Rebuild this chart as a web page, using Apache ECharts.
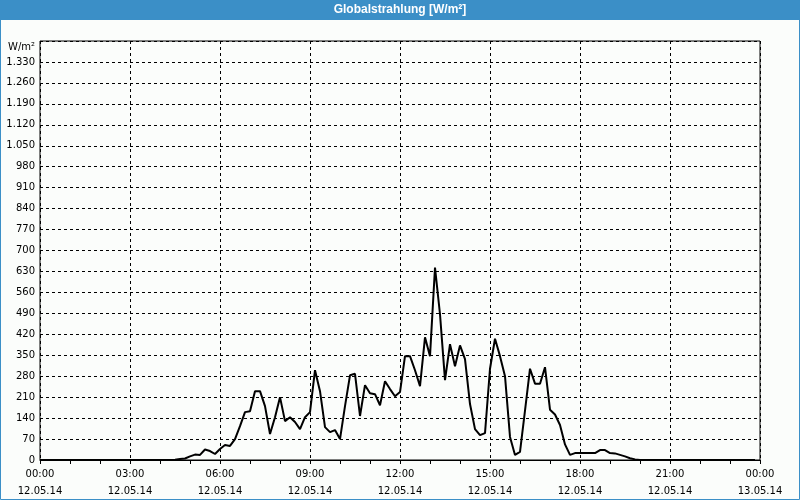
<!DOCTYPE html>
<html>
<head>
<meta charset="utf-8">
<script src="https://cdn.jsdelivr.net/npm/echarts@6/dist/echarts.min.js"></script>
<style>
html,body{margin:0;padding:0;background:#fbfdfb;}
#c{width:800px;height:500px;}
</style>
</head>
<body>
<div id="c"></div>
<script>
// ---- data ----
const titleText = 'Globalstrahlung [W/m²]';
const unitLabel = 'W/m²';
const stepMinutes = 10; // one reading every 10 minutes, starting 12.05.14 00:00
const radiation = [
  0,0,0,0,0,0,0,0,0,0, 0,0,0,0,0,0,0,0,0,0, 0,0,0,0,0,0,0,1,
  3,5,12,18,17,35,30,20,37,50,47,70,113,160,163,230,230,180,87,143,
  210,130,143,127,103,143,160,300,230,110,93,100,70,180,283,288,147,250,223,220,
  183,263,237,213,227,347,347,300,247,410,347,643,487,267,387,313,383,337,187,103,
  83,90,305,405,347,280,77,17,27,165,305,255,255,310,168,152,117,52,17,23,
  23,23,23,23,33,33,23,22,17,12,6,2,
  0,0,0,0,0,0,0,0,0,0,0,0,0,0,0,0,0,0,0,0,0,0,0,0
];
const xTickTimes = ['00:00','03:00','06:00','09:00','12:00','15:00','18:00','21:00','00:00'];
const xTickDates = ['12.05.14','12.05.14','12.05.14','12.05.14','12.05.14','12.05.14','12.05.14','12.05.14','13.05.14'];

const points = radiation.map((v, i) => [i * stepMinutes, v]);
const font = 'DejaVu Sans';

const chart = echarts.init(document.getElementById('c'), null, {renderer: 'canvas'});
chart.setOption({
  animation: false,
  backgroundColor: '#fbfdfb',
  graphic: [
    {type: 'rect', shape: {x: 0, y: 0, width: 800, height: 20}, style: {fill: '#3b8fc7'}, z: 10},
    {type: 'rect', shape: {x: 0.5, y: 0.5, width: 799, height: 499}, style: {fill: null, stroke: '#3b8fc7', lineWidth: 1}, z: 10},
    {type: 'text', x: 400, y: 10, style: {text: titleText, fill: '#ffffff', font: 'bold 12px "Liberation Sans"', align: 'center', verticalAlign: 'middle'}, z: 11},
    {type: 'text', x: 35, y: 47, style: {text: unitLabel, fill: '#000', font: '10px "DejaVu Sans"', align: 'right', verticalAlign: 'middle'}, z: 11}
  ],
  grid: {left: 40, right: 40, top: 41, bottom: 39, show: true, borderColor: '#000', borderWidth: 1, backgroundColor: '#fbfdfb'},
  xAxis: {
    type: 'value', min: 0, max: 1440, interval: 180,
    axisLine: {show: true, lineStyle: {color: '#000', width: 1}},
    axisTick: {show: true, length: 4, lineStyle: {color: '#000'}},
    minorTick: {show: true, splitNumber: 3, length: 4, lineStyle: {color: '#000'}},
    splitLine: {show: true, lineStyle: {color: '#000', type: [3, 3], width: 1}},
    axisLabel: {
      color: '#000', fontFamily: font, fontSize: 10, lineHeight: 17, margin: 6,
      formatter: v => { const k = Math.round(v / 180); return xTickTimes[k] + '\n' + xTickDates[k]; }
    }
  },
  yAxis: {
    type: 'value', min: 0, max: 1400, interval: 70,
    axisLine: {show: false},
    axisTick: {show: false},
    splitLine: {show: true, lineStyle: {color: '#000', type: [3, 3], width: 1}},
    axisLabel: {
      color: '#000', fontFamily: font, fontSize: 10, margin: 5,
      formatter: v => v >= 1400 ? '' : (v >= 1000 ? Math.floor(v / 1000) + '.' + String(v % 1000).padStart(3, '0') : String(v))
    }
  },
  series: [{
    type: 'line', data: points, showSymbol: false, symbol: 'none',
    lineStyle: {color: '#000', width: 2}, z: 5
  }]
});
</script>
</body>
</html>
